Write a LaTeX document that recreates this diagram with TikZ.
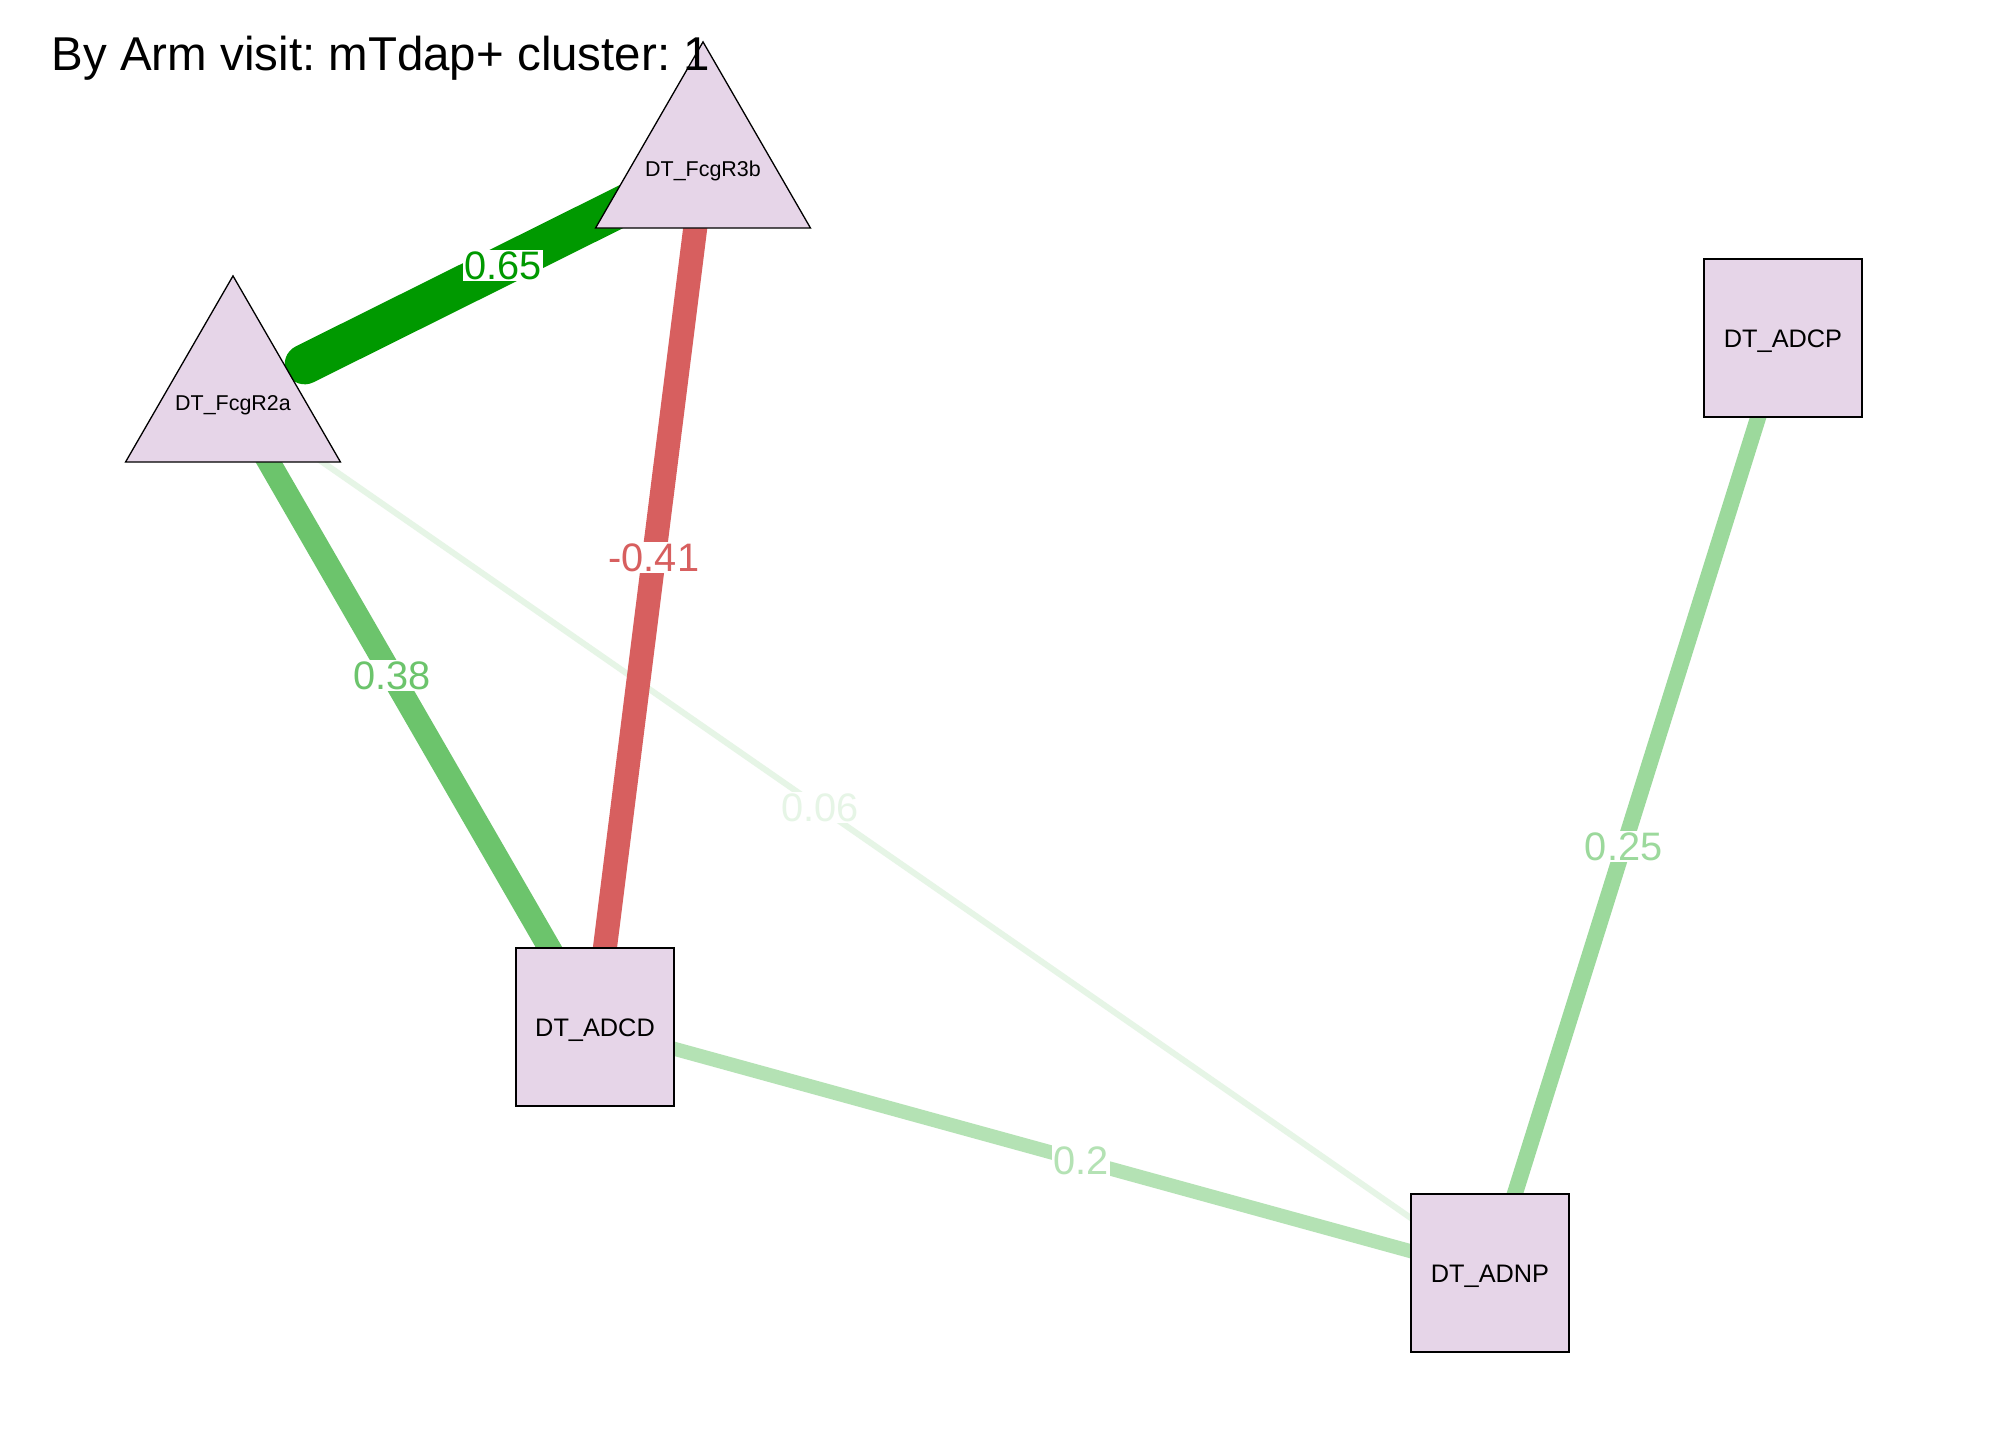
\documentclass[tikz,border=0pt]{standalone}
\usepackage{fontspec}
\setmainfont{Liberation Sans}
\frenchspacing
\pgfdeclarelayer{bg}
\pgfdeclarelayer{edges}
\pgfsetlayers{bg,edges,main}
\definecolor{nodefill}{RGB}{230,213,232}
\definecolor{eA}{RGB}{0,153,0}
\definecolor{eB}{RGB}{215,95,95}
\definecolor{eC}{RGB}{108,196,108}
\definecolor{eD}{RGB}{156,217,156}
\definecolor{eE}{RGB}{180,226,180}
\definecolor{eF}{RGB}{230,245,230}
\begin{document}
\begin{tikzpicture}[x=0.01cm,y=-0.01cm,
  sq/.style={draw=black, line width=0.013cm, fill=nodefill, rectangle,
    minimum size=1.58cm, inner sep=0pt, font=\fontsize{7.2}{8}\selectfont,
    text height=0.18cm, text depth=0pt},
  trishape/.style={draw=black, line width=0.013cm, fill=nodefill, line join=miter},
  trilab/.style={inner sep=0pt, font=\fontsize{6.1}{7}\selectfont,
    text height=0.154cm, text depth=0pt},
  elab/.style={fill=white, inner sep=0.015cm, font=\fontsize{11.3}{13}\selectfont,
    text height=0.283cm, text depth=0pt},
  edge/.style={line cap=butt}]
\begin{pgfonlayer}{bg}
\fill[white] (0,0) rectangle (2016,1440);
\end{pgfonlayer}
\useasboundingbox (0,0) rectangle (2016,1440);

% node centres
\coordinate (F2a) at (233,400);
\coordinate (F3b) at (703,166);

% triangle nodes
\filldraw[trishape] (233,275.9) -- (340.5,462.1) -- (125.5,462.1) -- cycle;
\node[trilab] (F2aL) at (233,403) {DT\_FcgR2a};
\filldraw[trishape] (703,41.9) -- (810.5,228.1) -- (595.5,228.1) -- cycle;
\node[trilab] (F3bL) at (703,169) {DT\_FcgR3b};

% square nodes
\node[sq] (ADCD) at (595,1027) {DT\_ADCD};
\node[sq] (ADNP) at (1490,1273) {DT\_ADNP};
\node[sq] (ADCP) at (1783,338) {DT\_ADCP};

% edges
\begin{pgfonlayer}{edges}
\draw[edge, line width=0.06cm, eF] (F2a) -- (ADNP.center)
  node[elab, pos=0.467, text=eF] {0.06};
\draw[edge, line width=0.14cm, eE] (ADCD.center) -- (ADNP.center)
  node[elab, pos=0.543, text=eE] {0.2};
\draw[edge, line width=0.16cm, eD] (ADCP.center) -- (ADNP.center)
  node[elab, pos=0.544, text=eD] {0.25};
\draw[edge, line width=0.23cm, eC] (F2a) -- (ADCD.center)
  node[elab, pos=0.439, text=eC] {0.38};
\draw[edge, line width=0.24cm, eB] (F3b) -- (ADCD.center)
  node[elab, pos=0.455, text=eB] {-0.41};
\draw[line width=0.40cm, eA, line cap=round, shorten <=0.8cm] (F2a) -- (F3b)
  node[elab, pos=0.574, text=eA] {0.65};
\end{pgfonlayer}

\node[anchor=base west, font=\fontsize{13.5}{16}\selectfont, inner sep=0pt] (title) at (51,71)
  {By Arm visit: mTdap+ cluster: 1};
\end{tikzpicture}
\end{document}
